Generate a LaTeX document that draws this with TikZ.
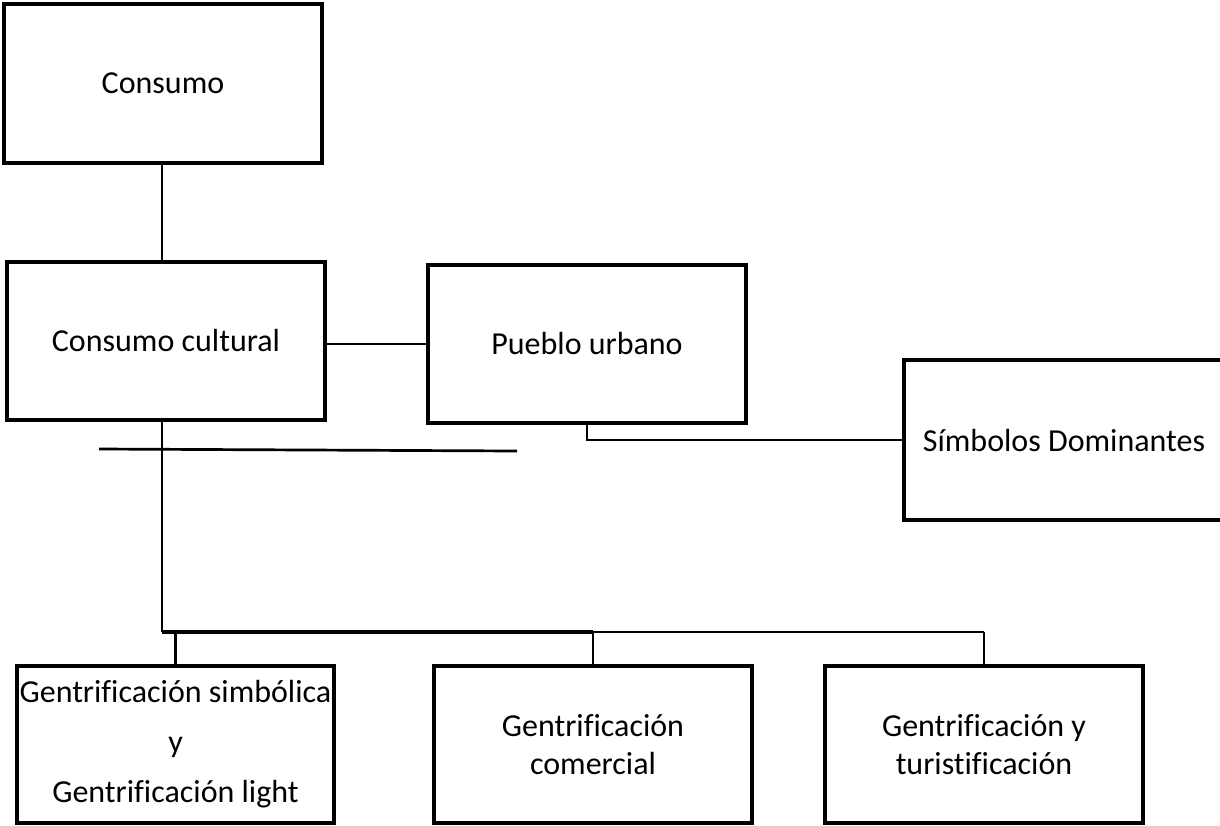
\documentclass[tikz,border=0pt]{standalone}
\usepackage{fontspec}
\setmainfont[Ligatures=NoCommon]{Carlito}
\usepackage{tikz}
\usetikzlibrary{calc}

\begin{document}
\begin{tikzpicture}[x=1pt,y=-1pt,
  caja/.style={draw,line width=3.2pt,rectangle,minimum width=318pt,minimum height=158pt,
    align=center,inner sep=0pt,font=\fontsize{32}{38}\selectfont},
  linea/.style={line width=2.7pt}]
\useasboundingbox (0,0) rectangle (1220,825);
% cajas
\node[caja,minimum height=159pt] (consumo) at (163,83.5) {Consumo};
\node[caja] (cultural) at (166,341) {Consumo cultural};
\node[caja] (pueblo) at (587,344) {Pueblo urbano};
\node[caja,minimum width=320pt,minimum height=160pt] (simbolos) at (1064,440) {Símbolos Dominantes};
\node[caja,minimum width=317pt,minimum height=157pt] (simbolica) at (175.5,744.5)
  {Gentrificación simbólica\\[12pt] y\\[12pt] Gentrificación light};
\node[caja,minimum height=157pt] (comercial) at (593,744.5) {Gentrificación\\ comercial};
\node[caja,minimum height=157pt] (turismo) at (984,744.5) {Gentrificación y\\ turistificación};
% conectores
\coordinate (barra) at (162,632);
\coordinate (raya1) at (99,449);
\coordinate (raya2) at (517,451);
\draw[linea] (consumo.south -| barra) -- (cultural.north -| barra);
\draw[linea] (cultural.east |- pueblo.west) -- (pueblo.west);
\draw[line width=2.2pt] (pueblo.south) |- (simbolos.west);
\draw[linea] (raya1) -- (raya2);
\draw[linea] (cultural.south -| barra) -- (barra);
\draw[line width=4pt] (barra) -- (barra -| comercial.north);
\draw[line width=2.2pt] (barra -| comercial.north) -- (barra -| turismo.north);
\foreach \n in {simbolica,comercial,turismo}
    \draw[line width=2.2pt] (barra -| \n.north) -- (\n.north);
\end{tikzpicture}
\end{document}
